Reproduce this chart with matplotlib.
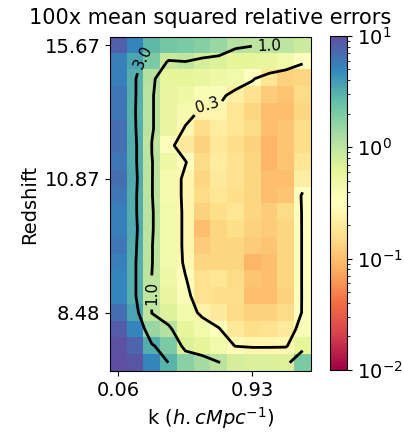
import numpy as np
import matplotlib
matplotlib.use("Agg")
import matplotlib.pyplot as plt
from matplotlib.colors import LogNorm

# tick labels (k bins along x, redshift bins along y)
k_ticks = [0, 8]
k_labels = ['0.06', '0.93']
z_ticks = [0, 8, 16]
z_labels = ['15.67', '10.87', '8.48']
levels = [0.3, 1.0, 3.0]

# 100x mean squared relative error, rows = redshift (top to bottom), cols = k
errors = [
    [8.0, 5.0, 2.8, 2.2, 2.0, 1.8, 1.5, 1.1, 1.02, 1.01, 0.99, 0.85],
    [5.5, 3.5, 2.0, 0.87, 0.97, 0.75, 0.7, 0.6, 0.6, 0.55, 0.45, 0.32],
    [5.5, 3.1, 1.1, 0.6, 0.6, 0.55, 0.5, 0.45, 0.32, 0.18, 0.13, 0.14],
    [6.0, 3.1, 1.05, 0.55, 0.5, 0.38, 0.36, 0.22, 0.17, 0.12, 0.11, 0.15],
    [6.0, 3.05, 1.05, 0.55, 0.42, 0.25, 0.26, 0.18, 0.14, 0.1, 0.1, 0.14],
    [6.5, 3.1, 1.05, 0.55, 0.27, 0.16, 0.21, 0.18, 0.15, 0.1, 0.11, 0.16],
    [6.5, 3.2, 0.98, 0.35, 0.2, 0.13, 0.19, 0.16, 0.13, 0.09, 0.11, 0.16],
    [6.0, 3.2, 1.02, 0.5, 0.31, 0.15, 0.21, 0.17, 0.14, 0.09, 0.11, 0.18],
    [6.5, 3.3, 1.02, 0.42, 0.26, 0.14, 0.2, 0.17, 0.14, 0.1, 0.1, 0.22],
    [6.0, 3.2, 1.02, 0.42, 0.26, 0.15, 0.18, 0.16, 0.14, 0.1, 0.11, 0.32],
    [5.5, 3.2, 1.05, 0.45, 0.26, 0.13, 0.16, 0.18, 0.14, 0.12, 0.15, 0.31],
    [5.5, 3.3, 1.05, 0.45, 0.26, 0.1, 0.14, 0.16, 0.13, 0.12, 0.14, 0.31],
    [6.0, 3.2, 1.02, 0.45, 0.26, 0.12, 0.14, 0.14, 0.12, 0.11, 0.14, 0.31],
    [5.5, 3.1, 1.02, 0.45, 0.27, 0.14, 0.14, 0.14, 0.09, 0.1, 0.14, 0.31],
    [5.0, 3.1, 0.99, 0.5, 0.31, 0.17, 0.18, 0.15, 0.11, 0.1, 0.14, 0.31],
    [5.0, 3.1, 0.98, 0.55, 0.36, 0.17, 0.16, 0.16, 0.1, 0.1, 0.13, 0.31],
    [6.5, 3.5, 0.975, 0.7, 0.45, 0.24, 0.2, 0.15, 0.13, 0.13, 0.15, 0.31],
    [8.5, 5.0, 1.5, 1.1, 0.6, 0.45, 0.31, 0.19, 0.16, 0.17, 0.2, 0.37],
    [9.5, 7.5, 3.2, 2.0, 0.7, 0.6, 0.45, 0.29, 0.26, 0.26, 0.27, 0.6],
    [10.0, 9.0, 5.0, 2.95, 1.7, 1.3, 1.02, 0.75, 0.72, 0.72, 0.7, 2.0],
]

data = np.array(errors)

fig = plt.figure(figsize=(4.04, 4.34), dpi=100)
ax = fig.add_axes([0.2723, 0.1452, 0.4975, 0.7696])
cax = fig.add_axes([0.8168, 0.1475, 0.042, 0.7696])

im = ax.imshow(data, cmap='Spectral', norm=LogNorm(vmin=1e-2, vmax=1e1), aspect='auto')
cs = ax.contour(data, levels=levels, colors='k', linewidths=2)
ax.clabel(cs, fmt='%.1f', fontsize=11, inline=True,
          manual=[(5.3, 3.6), (9.0, 0.5), (1.3, 0.6), (1.9, 14.8)])

ax.set_xticks(k_ticks)
ax.set_xticklabels(k_labels, fontsize=14)
ax.set_yticks(z_ticks)
ax.set_yticklabels(z_labels, fontsize=14)
ax.set_xlabel(r'k ($h.cMpc^{-1}$)', fontsize=14)
ax.set_ylabel('Redshift', fontsize=14)
ax.set_title('100x mean squared relative errors', fontsize=15, pad=9)

cb = fig.colorbar(im, cax=cax)
cb.ax.tick_params(labelsize=14)

fig.savefig('out.png', dpi=100)
